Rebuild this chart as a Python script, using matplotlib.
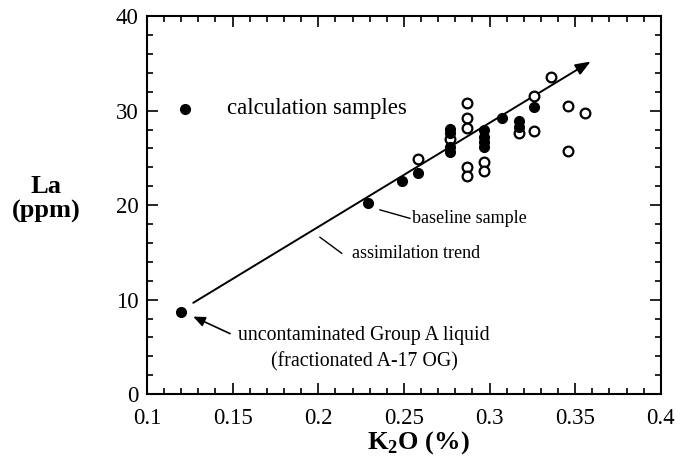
import matplotlib
matplotlib.use("Agg")
import matplotlib.pyplot as plt
from matplotlib.ticker import MultipleLocator

plt.rcParams["font.family"] = ["Liberation Serif", "DejaVu Serif"]
plt.rcParams["mathtext.fontset"] = "custom"
plt.rcParams["mathtext.rm"] = "Liberation Serif"
plt.rcParams["mathtext.bf"] = "Liberation Serif:bold"

# calculation samples (filled)
calc_k2o = [0.120, 0.229, 0.249, 0.258, 0.277, 0.277, 0.277, 0.277,
            0.297, 0.297, 0.297, 0.297, 0.307, 0.317, 0.317, 0.326]
calc_la = [8.7, 20.2, 22.6, 23.4, 28.1, 27.6, 26.2, 25.6,
           27.9, 27.2, 26.7, 26.2, 29.2, 28.9, 28.3, 30.4]
# other samples (open)
other_k2o = [0.258, 0.277, 0.287, 0.287, 0.287, 0.287, 0.287, 0.297, 0.297,
             0.317, 0.326, 0.326, 0.336, 0.346, 0.346, 0.356]
other_la = [24.9, 27.0, 30.8, 29.2, 28.2, 24.05, 23.1, 24.6, 23.6,
            27.6, 27.8, 31.5, 33.6, 30.5, 25.7, 29.7]
# assimilation trend arrow (start, end)
trend_k2o = [0.127, 0.359]
trend_la = [9.66, 35.2]

fig = plt.figure(figsize=(6.82, 4.62), dpi=100)
ax = fig.add_axes([0.2155, 0.147, 0.7535, 0.818])

ax.plot(other_k2o, other_la, "o", ms=7, mfc="white", mec="black", mew=1.6, zorder=3)
ax.plot(calc_k2o, calc_la, "o", ms=7, color="black", zorder=4)

ax.annotate("", xy=(trend_k2o[1], trend_la[1]), xytext=(trend_k2o[0], trend_la[0]),
            arrowprops=dict(arrowstyle="-|>,head_length=0.9,head_width=0.35", lw=1.4,
                            color="black", shrinkA=0, shrinkB=0), zorder=2)

# legend-like label
ax.plot([0.122], [30.2], "o", ms=7, color="black")
ax.text(0.147, 30.2, "calculation samples", fontsize=16.5, va="center", ha="left")

# leaders
ax.plot([0.236, 0.2535], [19.5, 18.6], color="black", lw=1)
ax.text(0.255, 18.6, "baseline sample", fontsize=13, va="center", ha="left")
ax.plot([0.201, 0.2137], [16.6, 14.9], color="black", lw=1)
ax.text(0.2195, 14.9, "assimilation trend", fontsize=13, va="center", ha="left")
ax.annotate("", xy=(0.127, 8.2), xytext=(0.1485, 6.4),
            arrowprops=dict(arrowstyle="-|>,head_length=0.7,head_width=0.3", lw=1.2,
                            color="black", shrinkA=0, shrinkB=0))
ax.text(0.2267, 6.24, "uncontaminated Group A liquid", fontsize=14.3, va="center", ha="center")
ax.text(0.2267, 3.4, "(fractionated A-17 OG)", fontsize=14.3, va="center", ha="center")

ax.set_xlim(0.1, 0.4)
ax.set_ylim(0, 40)
ax.xaxis.set_minor_locator(MultipleLocator(0.01))
ax.yaxis.set_major_locator(MultipleLocator(10))
ax.yaxis.set_minor_locator(MultipleLocator(2))
ax.set_xticks([0.1, 0.15, 0.2, 0.25, 0.3, 0.35, 0.4])
ax.set_xticklabels(["0.1", "0.15", "0.2", "0.25", "0.3", "0.35", "0.4"])
ax.tick_params(which="both", direction="in", top=True, right=True, labelsize=16.5, width=1.2)
ax.tick_params(which="major", length=8)
ax.tick_params(which="minor", length=4)
ax.tick_params(axis="x", pad=10)
ax.tick_params(axis="y", pad=6)
for s in ax.spines.values():
    s.set_linewidth(1.5)

fig.text(418 / 682, 1 - 443 / 462, r"K$_\mathbf{2}$O (%)", fontsize=19, fontweight="bold",
         ha="center", va="center")
fig.text(46 / 682, 1 - 199 / 462, "La\n(ppm)", fontsize=19, fontweight="bold", ha="center",
         va="center", linespacing=1.05)

fig.savefig("out.png", dpi=100)
